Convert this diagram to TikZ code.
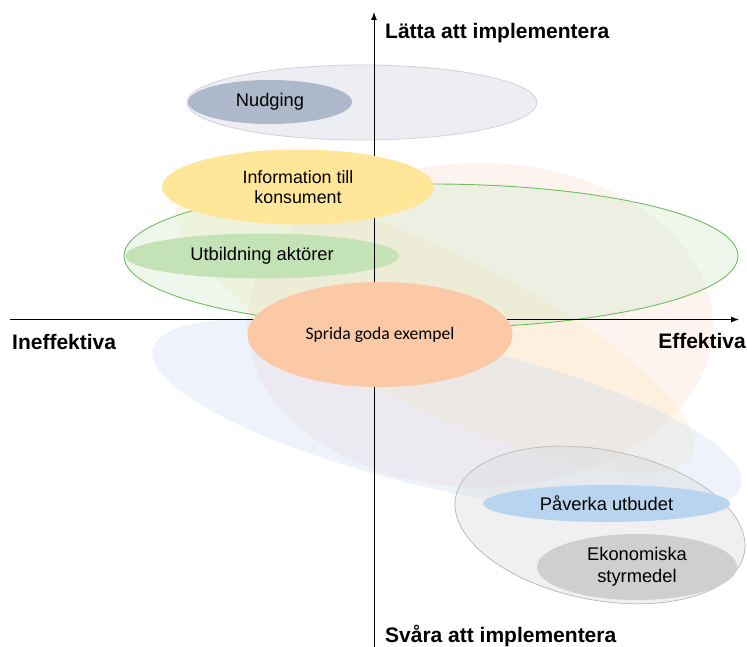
\documentclass[tikz,border=0pt]{standalone}
\usepackage{fontspec}
\setmainfont{Liberation Sans}
\newfontfamily\calibrifont{Carlito}
\usetikzlibrary{shapes.geometric,arrows.meta}
\definecolor{peachw}{HTML}{FADCD0}
\definecolor{yelloww}{HTML}{FCEABB}
\definecolor{bluew}{HTML}{D4DEF2}
\definecolor{greenw}{HTML}{D7EBCF}
\definecolor{greenline}{HTML}{6CBF5A}
\definecolor{grayw}{HTML}{DADADA}
\definecolor{grayline}{HTML}{BDBDBD}
\definecolor{nudgeouter}{HTML}{EDEEF4}
\definecolor{nudgeline}{HTML}{D2D3D8}
\definecolor{nudc}{HTML}{ADB9CA}
\definecolor{infoc}{HTML}{FFE699}
\definecolor{utbc}{HTML}{C3E2B5}
\definecolor{sprc}{HTML}{FCC9A6}
\definecolor{pavc}{HTML}{B9D4EE}
\definecolor{ekoc}{HTML}{D0CECE}
\begin{document}
\begin{tikzpicture}[x=1pt,y=-1pt,
  blob/.style={ellipse, inner sep=0pt, outer sep=0pt, align=center},
  wash/.style={blob, fill opacity=0.4},
  axis/.style={line width=1pt, -{Latex[length=8pt,width=6pt]}},
  heading/.style={font=\fontsize{21}{25}\selectfont\bfseries, inner sep=0pt},
  lbl/.style={font=\fontsize{18.3}{22}\selectfont}
]
\useasboundingbox (0,0) rectangle (747,647);
% translucent background ellipses
\node[wash, fill=peachw, fill opacity=0.35, minimum width=466pt, minimum height=324pt] (peach) at (480,325) {};
\node[wash, fill=yelloww, fill opacity=0.32, rotate=-26, minimum width=572pt, minimum height=156pt] (yel) at (435,330) {};
\node[wash, fill=bluew, rotate=-13, minimum width=604pt, minimum height=146pt] (blu) at (447,417) {};
\node[wash, fill=greenw, draw=greenline, draw opacity=1, line width=0.9pt, minimum width=614pt, minimum height=144pt] (grn) at (431,256) {};
\node[blob, fill=nudgeouter, draw=nudgeline, line width=0.8pt, minimum width=350pt, minimum height=75pt] (nudo) at (362,102.5) {};
\node[wash, fill=grayw, draw=grayline, draw opacity=1, line width=0.8pt, rotate=-11, minimum width=294pt, minimum height=150pt] (grh) at (600,525) {};
% solid ellipses below axes
\node[blob, fill=utbc, minimum width=274pt, minimum height=45pt, lbl] (utb) at (262,256) {Utbildning aktörer};
\node[blob, fill=nudc, minimum width=164pt, minimum height=44pt, lbl] (nud) at (270,102) {Nudging};
% axes
\coordinate (xl) at (10,319.5);
\coordinate (xr) at (739,319.5);
\coordinate (yb) at (374,647);
\coordinate (yt) at (374,12);
\draw[axis] (xl) -- (xr);
\draw[axis] (yb) -- (yt);
% solid ellipses above axes
\node[blob, fill=infoc, minimum width=272pt, minimum height=75pt, font=\fontsize{17.8}{20}\selectfont] (inf) at (298,187) {Information till\\konsument};
\node[blob, fill=sprc, minimum width=265pt, minimum height=105pt, font=\calibrifont\fontsize{17.6}{21}\selectfont] (spr) at (380,334.5) {Sprida goda exempel};
\node[blob, fill=pavc, minimum width=247pt, minimum height=37pt, lbl] (pav) at (606.5,503.5) {Påverka utbudet};
\node[blob, fill=ekoc, minimum width=200pt, minimum height=66pt, font=\fontsize{18.3}{22}\selectfont] (eko) at (637,567) {Ekonomiska\\styrmedel};
% headings
\node[heading, anchor=west] (easy) at (385,33) {Lätta att implementera};
\node[heading, anchor=west] (hard) at (385,636) {Svåra att implementera};
\node[heading, anchor=west] (ineff) at (12,342) {Ineffektiva};
\node[heading, anchor=east] (eff) at (746,341) {Effektiva};
\end{tikzpicture}
\end{document}
